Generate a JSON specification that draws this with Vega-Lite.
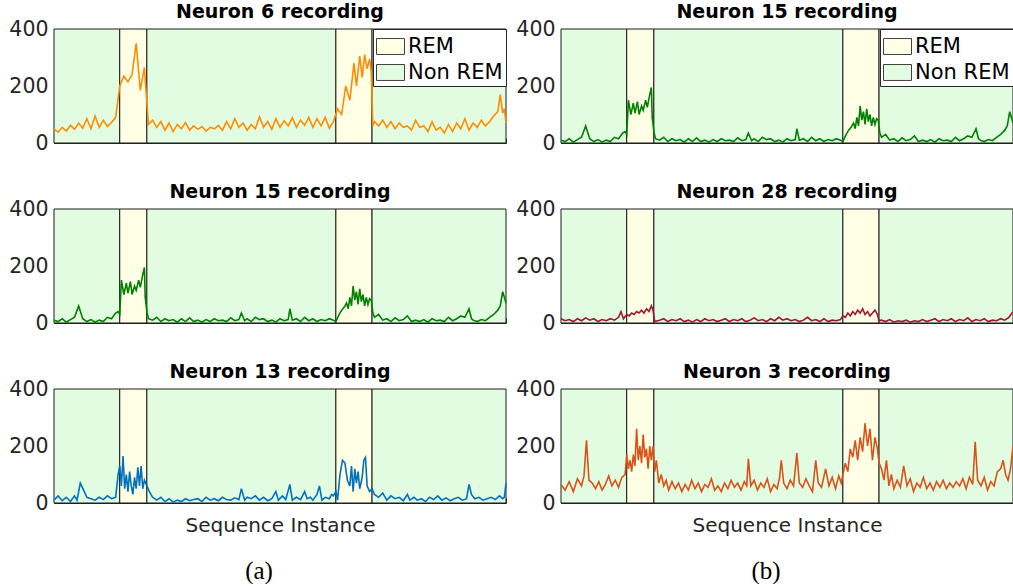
{
  "$schema": "https://vega.github.io/schema/vega-lite/v6.json",
  "background": "white",
  "padding": {"left": 8, "top": 3, "right": 0, "bottom": 0},
  "config": {
    "view": {"stroke": null},
    "axis": {"domainColor": "#262626", "tickColor": "#262626", "labelColor": "#262626", "labelFont": "DejaVu Sans", "labelFontSize": 20.5, "grid": false, "domainWidth": 1, "tickWidth": 1, "titleFont": "DejaVu Sans", "titleFontSize": 20, "titleFontWeight": "normal", "titleColor": "#262626"},
    "title": {"font": "DejaVu Sans", "fontSize": 19, "fontWeight": "bold", "color": "#000000", "offset": -3}
  },
  "datasets": {
    "shade": [{"x1":0,"x2":80,"s":"Non REM"},{"x1":80,"x2":113,"s":"REM"},{"x1":113,"x2":343,"s":"Non REM"},{"x1":343,"x2":387,"s":"REM"},{"x1":387,"x2":550,"s":"Non REM"}],
    "n6": [{"x":0,"y":50},{"x":5,"y":38},{"x":10,"y":55},{"x":15,"y":42},{"x":20,"y":62},{"x":25,"y":48},{"x":30,"y":70},{"x":35,"y":52},{"x":40,"y":85},{"x":45,"y":50},{"x":50,"y":95},{"x":55,"y":55},{"x":60,"y":80},{"x":65,"y":58},{"x":70,"y":72},{"x":75,"y":90},{"x":80,"y":200},{"x":85,"y":235},{"x":90,"y":215},{"x":95,"y":240},{"x":100,"y":350},{"x":105,"y":185},{"x":110,"y":265},{"x":112,"y":180},{"x":115,"y":65},{"x":120,"y":80},{"x":125,"y":55},{"x":130,"y":75},{"x":135,"y":45},{"x":140,"y":70},{"x":145,"y":40},{"x":150,"y":65},{"x":155,"y":50},{"x":160,"y":72},{"x":165,"y":45},{"x":170,"y":60},{"x":175,"y":48},{"x":180,"y":58},{"x":185,"y":42},{"x":190,"y":55},{"x":195,"y":50},{"x":200,"y":62},{"x":205,"y":45},{"x":210,"y":75},{"x":215,"y":50},{"x":220,"y":85},{"x":225,"y":55},{"x":230,"y":70},{"x":235,"y":45},{"x":240,"y":65},{"x":245,"y":50},{"x":250,"y":92},{"x":255,"y":55},{"x":260,"y":75},{"x":265,"y":48},{"x":270,"y":85},{"x":275,"y":55},{"x":280,"y":78},{"x":285,"y":60},{"x":290,"y":88},{"x":295,"y":55},{"x":300,"y":80},{"x":305,"y":62},{"x":310,"y":90},{"x":315,"y":55},{"x":320,"y":85},{"x":325,"y":60},{"x":330,"y":90},{"x":335,"y":52},{"x":340,"y":75},{"x":345,"y":120},{"x":350,"y":100},{"x":355,"y":200},{"x":360,"y":150},{"x":365,"y":280},{"x":368,"y":200},{"x":372,"y":305},{"x":375,"y":230},{"x":378,"y":310},{"x":381,"y":260},{"x":384,"y":295},{"x":386,"y":250},{"x":388,"y":60},{"x":390,"y":75},{"x":395,"y":60},{"x":400,"y":80},{"x":405,"y":55},{"x":410,"y":75},{"x":415,"y":50},{"x":420,"y":70},{"x":425,"y":55},{"x":430,"y":60},{"x":435,"y":45},{"x":440,"y":80},{"x":445,"y":55},{"x":450,"y":60},{"x":455,"y":40},{"x":460,"y":75},{"x":465,"y":45},{"x":470,"y":55},{"x":475,"y":35},{"x":480,"y":65},{"x":485,"y":40},{"x":490,"y":70},{"x":495,"y":50},{"x":500,"y":85},{"x":505,"y":45},{"x":510,"y":70},{"x":515,"y":55},{"x":520,"y":80},{"x":525,"y":60},{"x":530,"y":75},{"x":535,"y":95},{"x":540,"y":110},{"x":543,"y":170},{"x":546,"y":105},{"x":548,"y":120},{"x":550,"y":70}],
    "n15": [{"x":0,"y":10},{"x":5,"y":5},{"x":10,"y":15},{"x":15,"y":3},{"x":20,"y":12},{"x":25,"y":20},{"x":30,"y":60},{"x":35,"y":15},{"x":40,"y":5},{"x":45,"y":12},{"x":50,"y":3},{"x":55,"y":10},{"x":60,"y":5},{"x":65,"y":20},{"x":70,"y":15},{"x":75,"y":35},{"x":78,"y":40},{"x":80,"y":30},{"x":82,"y":150},{"x":85,"y":100},{"x":88,"y":140},{"x":90,"y":105},{"x":93,"y":145},{"x":95,"y":100},{"x":98,"y":130},{"x":100,"y":115},{"x":103,"y":150},{"x":105,"y":125},{"x":108,"y":170},{"x":110,"y":195},{"x":111,"y":90},{"x":113,"y":40},{"x":115,"y":15},{"x":120,"y":10},{"x":125,"y":20},{"x":130,"y":5},{"x":135,"y":15},{"x":140,"y":8},{"x":145,"y":12},{"x":150,"y":3},{"x":155,"y":15},{"x":160,"y":5},{"x":165,"y":18},{"x":170,"y":5},{"x":175,"y":10},{"x":180,"y":3},{"x":185,"y":12},{"x":190,"y":5},{"x":195,"y":15},{"x":200,"y":8},{"x":205,"y":10},{"x":210,"y":5},{"x":215,"y":18},{"x":220,"y":8},{"x":225,"y":12},{"x":228,"y":35},{"x":232,"y":8},{"x":235,"y":15},{"x":240,"y":5},{"x":245,"y":20},{"x":250,"y":12},{"x":255,"y":15},{"x":260,"y":5},{"x":265,"y":10},{"x":270,"y":3},{"x":275,"y":15},{"x":280,"y":8},{"x":285,"y":12},{"x":287,"y":50},{"x":290,"y":10},{"x":295,"y":15},{"x":300,"y":5},{"x":305,"y":20},{"x":310,"y":8},{"x":315,"y":15},{"x":320,"y":5},{"x":325,"y":12},{"x":330,"y":8},{"x":335,"y":15},{"x":340,"y":10},{"x":343,"y":5},{"x":347,"y":30},{"x":350,"y":45},{"x":353,"y":55},{"x":356,"y":70},{"x":358,"y":50},{"x":360,"y":90},{"x":362,"y":60},{"x":364,"y":130},{"x":366,"y":80},{"x":368,"y":110},{"x":370,"y":65},{"x":372,"y":120},{"x":374,"y":75},{"x":376,"y":100},{"x":378,"y":60},{"x":380,"y":90},{"x":382,"y":65},{"x":384,"y":85},{"x":386,"y":80},{"x":388,"y":35},{"x":390,"y":20},{"x":395,"y":30},{"x":400,"y":10},{"x":405,"y":15},{"x":410,"y":5},{"x":415,"y":18},{"x":420,"y":8},{"x":425,"y":12},{"x":430,"y":25},{"x":435,"y":5},{"x":440,"y":10},{"x":445,"y":5},{"x":450,"y":12},{"x":455,"y":3},{"x":460,"y":15},{"x":465,"y":8},{"x":470,"y":10},{"x":475,"y":5},{"x":480,"y":20},{"x":485,"y":8},{"x":490,"y":15},{"x":495,"y":25},{"x":500,"y":20},{"x":505,"y":50},{"x":508,"y":15},{"x":510,"y":10},{"x":515,"y":5},{"x":520,"y":12},{"x":525,"y":8},{"x":530,"y":20},{"x":535,"y":30},{"x":540,"y":45},{"x":543,"y":60},{"x":546,"y":110},{"x":548,"y":90},{"x":550,"y":70}],
    "n28": [{"x":0,"y":15},{"x":5,"y":8},{"x":10,"y":12},{"x":15,"y":5},{"x":20,"y":15},{"x":25,"y":8},{"x":30,"y":18},{"x":35,"y":10},{"x":40,"y":15},{"x":45,"y":5},{"x":50,"y":12},{"x":55,"y":8},{"x":60,"y":15},{"x":65,"y":10},{"x":70,"y":20},{"x":73,"y":40},{"x":76,"y":15},{"x":80,"y":30},{"x":83,"y":25},{"x":86,"y":35},{"x":89,"y":30},{"x":92,"y":40},{"x":95,"y":35},{"x":98,"y":45},{"x":101,"y":35},{"x":104,"y":50},{"x":107,"y":40},{"x":110,"y":60},{"x":112,"y":45},{"x":114,"y":5},{"x":120,"y":10},{"x":125,"y":15},{"x":130,"y":5},{"x":135,"y":12},{"x":140,"y":8},{"x":145,"y":15},{"x":150,"y":5},{"x":155,"y":10},{"x":160,"y":3},{"x":165,"y":12},{"x":170,"y":5},{"x":175,"y":15},{"x":180,"y":8},{"x":185,"y":12},{"x":190,"y":5},{"x":195,"y":10},{"x":200,"y":15},{"x":205,"y":5},{"x":210,"y":12},{"x":215,"y":8},{"x":220,"y":15},{"x":225,"y":5},{"x":230,"y":10},{"x":235,"y":18},{"x":240,"y":8},{"x":245,"y":12},{"x":250,"y":5},{"x":255,"y":15},{"x":260,"y":8},{"x":265,"y":20},{"x":270,"y":10},{"x":275,"y":15},{"x":280,"y":8},{"x":285,"y":12},{"x":290,"y":5},{"x":295,"y":10},{"x":300,"y":20},{"x":305,"y":8},{"x":310,"y":12},{"x":315,"y":5},{"x":320,"y":15},{"x":325,"y":5},{"x":330,"y":10},{"x":335,"y":8},{"x":340,"y":12},{"x":343,"y":25},{"x":346,"y":20},{"x":349,"y":35},{"x":352,"y":25},{"x":355,"y":40},{"x":358,"y":30},{"x":361,"y":45},{"x":364,"y":35},{"x":367,"y":50},{"x":370,"y":30},{"x":373,"y":40},{"x":376,"y":25},{"x":379,"y":35},{"x":382,"y":45},{"x":385,"y":30},{"x":387,"y":8},{"x":390,"y":10},{"x":395,"y":5},{"x":400,"y":12},{"x":405,"y":3},{"x":410,"y":8},{"x":415,"y":5},{"x":420,"y":10},{"x":425,"y":3},{"x":430,"y":8},{"x":435,"y":5},{"x":440,"y":12},{"x":445,"y":5},{"x":450,"y":10},{"x":455,"y":15},{"x":460,"y":5},{"x":465,"y":12},{"x":470,"y":8},{"x":475,"y":15},{"x":480,"y":5},{"x":485,"y":12},{"x":490,"y":8},{"x":495,"y":18},{"x":500,"y":5},{"x":505,"y":12},{"x":510,"y":8},{"x":515,"y":15},{"x":520,"y":5},{"x":525,"y":10},{"x":530,"y":8},{"x":535,"y":15},{"x":540,"y":10},{"x":545,"y":20},{"x":550,"y":40}],
    "n13": [{"x":0,"y":10},{"x":5,"y":25},{"x":10,"y":8},{"x":15,"y":20},{"x":20,"y":5},{"x":25,"y":25},{"x":28,"y":10},{"x":32,"y":70},{"x":36,"y":45},{"x":40,"y":20},{"x":45,"y":15},{"x":50,"y":10},{"x":55,"y":20},{"x":60,"y":12},{"x":65,"y":25},{"x":70,"y":15},{"x":75,"y":20},{"x":78,"y":100},{"x":80,"y":130},{"x":82,"y":60},{"x":84,"y":165},{"x":86,"y":50},{"x":88,"y":100},{"x":90,"y":40},{"x":92,"y":110},{"x":94,"y":60},{"x":96,"y":30},{"x":98,"y":90},{"x":100,"y":50},{"x":102,"y":125},{"x":104,"y":60},{"x":106,"y":130},{"x":108,"y":50},{"x":110,"y":80},{"x":113,"y":60},{"x":116,"y":40},{"x":120,"y":20},{"x":125,"y":10},{"x":130,"y":20},{"x":135,"y":5},{"x":140,"y":15},{"x":145,"y":3},{"x":150,"y":10},{"x":155,"y":5},{"x":160,"y":15},{"x":165,"y":8},{"x":170,"y":12},{"x":175,"y":15},{"x":180,"y":5},{"x":185,"y":20},{"x":190,"y":10},{"x":195,"y":15},{"x":200,"y":8},{"x":205,"y":20},{"x":210,"y":12},{"x":215,"y":10},{"x":220,"y":18},{"x":225,"y":12},{"x":228,"y":50},{"x":232,"y":10},{"x":235,"y":20},{"x":240,"y":15},{"x":245,"y":25},{"x":250,"y":10},{"x":255,"y":20},{"x":260,"y":8},{"x":265,"y":15},{"x":270,"y":40},{"x":273,"y":10},{"x":278,"y":25},{"x":282,"y":12},{"x":287,"y":65},{"x":290,"y":10},{"x":295,"y":20},{"x":300,"y":12},{"x":305,"y":40},{"x":308,"y":15},{"x":312,"y":20},{"x":315,"y":10},{"x":320,"y":30},{"x":323,"y":60},{"x":326,"y":10},{"x":330,"y":20},{"x":335,"y":15},{"x":338,"y":30},{"x":340,"y":25},{"x":343,"y":40},{"x":345,"y":10},{"x":348,"y":100},{"x":351,"y":150},{"x":354,"y":140},{"x":357,"y":80},{"x":360,"y":60},{"x":362,"y":130},{"x":364,"y":40},{"x":366,"y":120},{"x":368,"y":70},{"x":370,"y":110},{"x":372,"y":50},{"x":375,"y":90},{"x":377,"y":150},{"x":379,"y":160},{"x":381,"y":60},{"x":384,"y":40},{"x":387,"y":50},{"x":390,"y":30},{"x":395,"y":20},{"x":400,"y":35},{"x":405,"y":10},{"x":410,"y":25},{"x":415,"y":15},{"x":420,"y":20},{"x":425,"y":8},{"x":430,"y":30},{"x":433,"y":10},{"x":438,"y":20},{"x":442,"y":10},{"x":447,"y":15},{"x":452,"y":5},{"x":457,"y":20},{"x":462,"y":12},{"x":467,"y":25},{"x":472,"y":10},{"x":477,"y":18},{"x":482,"y":8},{"x":487,"y":15},{"x":492,"y":20},{"x":497,"y":10},{"x":502,"y":15},{"x":505,"y":65},{"x":508,"y":30},{"x":512,"y":15},{"x":517,"y":20},{"x":522,"y":10},{"x":527,"y":15},{"x":532,"y":20},{"x":537,"y":12},{"x":542,"y":25},{"x":546,"y":15},{"x":548,"y":20},{"x":550,"y":70}],
    "n3": [{"x":0,"y":65},{"x":5,"y":45},{"x":10,"y":75},{"x":15,"y":40},{"x":20,"y":85},{"x":25,"y":60},{"x":28,"y":95},{"x":31,"y":220},{"x":34,"y":80},{"x":38,"y":70},{"x":42,"y":50},{"x":46,"y":75},{"x":50,"y":45},{"x":54,"y":65},{"x":58,"y":95},{"x":62,"y":60},{"x":66,"y":80},{"x":70,"y":55},{"x":74,"y":90},{"x":78,"y":100},{"x":80,"y":170},{"x":82,"y":120},{"x":84,"y":150},{"x":86,"y":110},{"x":88,"y":170},{"x":90,"y":130},{"x":92,"y":260},{"x":94,"y":150},{"x":96,"y":200},{"x":98,"y":140},{"x":100,"y":240},{"x":102,"y":160},{"x":104,"y":190},{"x":106,"y":120},{"x":108,"y":200},{"x":110,"y":150},{"x":112,"y":200},{"x":114,"y":110},{"x":116,"y":150},{"x":119,"y":70},{"x":122,"y":100},{"x":125,"y":60},{"x":128,"y":80},{"x":131,"y":45},{"x":135,"y":75},{"x":139,"y":50},{"x":143,"y":70},{"x":147,"y":40},{"x":151,"y":65},{"x":155,"y":45},{"x":159,"y":80},{"x":163,"y":50},{"x":167,"y":70},{"x":171,"y":40},{"x":175,"y":65},{"x":179,"y":55},{"x":183,"y":85},{"x":187,"y":45},{"x":191,"y":60},{"x":195,"y":40},{"x":199,"y":70},{"x":203,"y":50},{"x":207,"y":80},{"x":211,"y":55},{"x":215,"y":70},{"x":219,"y":45},{"x":223,"y":75},{"x":226,"y":60},{"x":228,"y":155},{"x":231,"y":60},{"x":235,"y":80},{"x":239,"y":45},{"x":243,"y":70},{"x":247,"y":55},{"x":251,"y":85},{"x":255,"y":40},{"x":259,"y":65},{"x":263,"y":50},{"x":266,"y":90},{"x":268,"y":150},{"x":271,"y":70},{"x":275,"y":50},{"x":279,"y":80},{"x":283,"y":60},{"x":287,"y":175},{"x":290,"y":70},{"x":294,"y":55},{"x":298,"y":85},{"x":302,"y":60},{"x":306,"y":40},{"x":310,"y":150},{"x":313,"y":70},{"x":317,"y":55},{"x":322,"y":120},{"x":326,"y":60},{"x":330,"y":90},{"x":334,"y":50},{"x":338,"y":95},{"x":341,"y":70},{"x":343,"y":100},{"x":346,"y":140},{"x":349,"y":110},{"x":352,"y":190},{"x":355,"y":160},{"x":358,"y":220},{"x":361,"y":150},{"x":364,"y":230},{"x":367,"y":180},{"x":370,"y":280},{"x":373,"y":200},{"x":376,"y":260},{"x":379,"y":150},{"x":382,"y":230},{"x":385,"y":190},{"x":387,"y":140},{"x":390,"y":120},{"x":393,"y":80},{"x":396,"y":150},{"x":399,"y":60},{"x":402,"y":100},{"x":405,"y":50},{"x":409,"y":80},{"x":413,"y":55},{"x":417,"y":130},{"x":421,"y":60},{"x":425,"y":85},{"x":429,"y":40},{"x":433,"y":70},{"x":437,"y":55},{"x":441,"y":90},{"x":445,"y":50},{"x":449,"y":70},{"x":453,"y":45},{"x":457,"y":75},{"x":461,"y":55},{"x":465,"y":80},{"x":469,"y":50},{"x":473,"y":70},{"x":477,"y":55},{"x":481,"y":75},{"x":485,"y":60},{"x":489,"y":85},{"x":493,"y":50},{"x":497,"y":90},{"x":501,"y":65},{"x":504,"y":215},{"x":507,"y":80},{"x":511,"y":60},{"x":515,"y":90},{"x":519,"y":45},{"x":523,"y":75},{"x":527,"y":60},{"x":531,"y":110},{"x":535,"y":120},{"x":538,"y":150},{"x":541,"y":100},{"x":544,"y":80},{"x":547,"y":120},{"x":550,"y":200}]
  },
  "spacing": 5,
  "resolve": {"scale": {"fill": "independent", "x": "independent", "y": "independent"}, "legend": {"fill": "independent"}},
  "hconcat": [
    {
      "spacing": 66,
      "bounds": "flush",
      "resolve": {"scale": {"fill": "independent", "x": "independent", "y": "independent"}, "legend": {"fill": "independent"}},
      "title": {"text": "(a)", "orient": "bottom", "anchor": "middle", "font": "Liberation Serif", "fontSize": 25, "fontWeight": "normal", "color": "#000000", "offset": 23},
      "vconcat": [
        {
          "width": 452, "height": 114,
          "title": "Neuron 6 recording",
          "layer": [
            {"data": {"name": "shade"}, "mark": {"type": "rect", "stroke": "#1a1a1a", "strokeWidth": 1},
             "encoding": {
               "x": {"field": "x1", "type": "quantitative", "scale": {"domain": [0, 550], "nice": false, "zero": false}, "axis": {"values": [50,150,250,350,450,550], "labels": false, "title": null, "tickSize": -5}},
               "x2": {"field": "x2"},
               "y": {"datum": 400, "type": "quantitative", "scale": {"domain": [0, 400], "nice": false}, "axis": {"values": [0,200,400], "title": null, "tickSize": -5, "labelPadding": 11}},
               "y2": {"datum": 0},
               "fill": {"field": "s", "type": "nominal", "scale": {"domain": ["REM", "Non REM"], "range": ["#FFFFE6", "#E1FCE0"]},
                 "legend": {"title": null, "orient": "top-right", "offset": 0, "fillColor": "white", "strokeColor": "#262626", "padding": 3, "symbolType": "M-1,-0.57H1V0.57H-1Z", "symbolSize": 784, "symbolStrokeColor": "#404040", "symbolStrokeWidth": 1, "symbolOpacity": 1, "labelFont": "DejaVu Sans", "labelFontSize": 21, "labelColor": "#000000", "labelOffset": 3, "rowPadding": 1}}
             }},
            {"data": {"name": "n6"}, "mark": {"type": "line", "color": "#FF8C00", "strokeWidth": 1.6},
             "encoding": {"x": {"field": "x", "type": "quantitative"}, "y": {"field": "y", "type": "quantitative"}}}
          ]
        },
        {
          "width": 452, "height": 114,
          "title": "Neuron 15 recording",
          "layer": [
            {"data": {"name": "shade"}, "mark": {"type": "rect", "stroke": "#1a1a1a", "strokeWidth": 1},
             "encoding": {
               "x": {"field": "x1", "type": "quantitative", "scale": {"domain": [0, 550], "nice": false, "zero": false}, "axis": {"values": [50,150,250,350,450,550], "labels": false, "title": null, "tickSize": -5}},
               "x2": {"field": "x2"},
               "y": {"datum": 400, "type": "quantitative", "scale": {"domain": [0, 400], "nice": false}, "axis": {"values": [0,200,400], "title": null, "tickSize": -5, "labelPadding": 11}},
               "y2": {"datum": 0},
               "fill": {"field": "s", "type": "nominal", "scale": {"domain": ["REM", "Non REM"], "range": ["#FFFFE6", "#E1FCE0"]}, "legend": null}
             }},
            {"data": {"name": "n15"}, "mark": {"type": "line", "color": "#008000", "strokeWidth": 1.6},
             "encoding": {"x": {"field": "x", "type": "quantitative"}, "y": {"field": "y", "type": "quantitative"}}}
          ]
        },
        {
          "width": 452, "height": 114,
          "title": "Neuron 13 recording",
          "layer": [
            {"data": {"name": "shade"}, "mark": {"type": "rect", "stroke": "#1a1a1a", "strokeWidth": 1},
             "encoding": {
               "x": {"field": "x1", "type": "quantitative", "scale": {"domain": [0, 550], "nice": false, "zero": false}, "axis": {"values": [50,150,250,350,450,550], "labels": false, "title": "Sequence Instance", "titlePadding": 12, "tickSize": -5}},
               "x2": {"field": "x2"},
               "y": {"datum": 400, "type": "quantitative", "scale": {"domain": [0, 400], "nice": false}, "axis": {"values": [0,200,400], "title": null, "tickSize": -5, "labelPadding": 11}},
               "y2": {"datum": 0},
               "fill": {"field": "s", "type": "nominal", "scale": {"domain": ["REM", "Non REM"], "range": ["#FFFFE6", "#E1FCE0"]}, "legend": null}
             }},
            {"data": {"name": "n13"}, "mark": {"type": "line", "color": "#0072BD", "strokeWidth": 1.6},
             "encoding": {"x": {"field": "x", "type": "quantitative"}, "y": {"field": "y", "type": "quantitative"}}}
          ]
        }
      ]
    },
    {
      "spacing": 66,
      "bounds": "flush",
      "resolve": {"scale": {"fill": "independent", "x": "independent", "y": "independent"}, "legend": {"fill": "independent"}},
      "title": {"text": "(b)", "orient": "bottom", "anchor": "middle", "font": "Liberation Serif", "fontSize": 25, "fontWeight": "normal", "color": "#000000", "offset": 23},
      "vconcat": [
        {
          "width": 452, "height": 114,
          "title": "Neuron 15 recording",
          "layer": [
            {"data": {"name": "shade"}, "mark": {"type": "rect", "stroke": "#1a1a1a", "strokeWidth": 1},
             "encoding": {
               "x": {"field": "x1", "type": "quantitative", "scale": {"domain": [0, 550], "nice": false, "zero": false}, "axis": {"values": [50,150,250,350,450,550], "labels": false, "title": null, "tickSize": -5}},
               "x2": {"field": "x2"},
               "y": {"datum": 400, "type": "quantitative", "scale": {"domain": [0, 400], "nice": false}, "axis": {"values": [0,200,400], "title": null, "tickSize": -5, "labelPadding": 11}},
               "y2": {"datum": 0},
               "fill": {"field": "s", "type": "nominal", "scale": {"domain": ["REM", "Non REM"], "range": ["#FFFFE6", "#E1FCE0"]},
                 "legend": {"title": null, "orient": "top-right", "offset": 0, "fillColor": "white", "strokeColor": "#262626", "padding": 3, "symbolType": "M-1,-0.57H1V0.57H-1Z", "symbolSize": 784, "symbolStrokeColor": "#404040", "symbolStrokeWidth": 1, "symbolOpacity": 1, "labelFont": "DejaVu Sans", "labelFontSize": 21, "labelColor": "#000000", "labelOffset": 3, "rowPadding": 1}}
             }},
            {"data": {"name": "n15"}, "mark": {"type": "line", "color": "#008000", "strokeWidth": 1.6},
             "encoding": {"x": {"field": "x", "type": "quantitative"}, "y": {"field": "y", "type": "quantitative"}}}
          ]
        },
        {
          "width": 452, "height": 114,
          "title": "Neuron 28 recording",
          "layer": [
            {"data": {"name": "shade"}, "mark": {"type": "rect", "stroke": "#1a1a1a", "strokeWidth": 1},
             "encoding": {
               "x": {"field": "x1", "type": "quantitative", "scale": {"domain": [0, 550], "nice": false, "zero": false}, "axis": {"values": [50,150,250,350,450,550], "labels": false, "title": null, "tickSize": -5}},
               "x2": {"field": "x2"},
               "y": {"datum": 400, "type": "quantitative", "scale": {"domain": [0, 400], "nice": false}, "axis": {"values": [0,200,400], "title": null, "tickSize": -5, "labelPadding": 11}},
               "y2": {"datum": 0},
               "fill": {"field": "s", "type": "nominal", "scale": {"domain": ["REM", "Non REM"], "range": ["#FFFFE6", "#E1FCE0"]}, "legend": null}
             }},
            {"data": {"name": "n28"}, "mark": {"type": "line", "color": "#A2142F", "strokeWidth": 1.6},
             "encoding": {"x": {"field": "x", "type": "quantitative"}, "y": {"field": "y", "type": "quantitative"}}}
          ]
        },
        {
          "width": 452, "height": 114,
          "title": "Neuron 3 recording",
          "layer": [
            {"data": {"name": "shade"}, "mark": {"type": "rect", "stroke": "#1a1a1a", "strokeWidth": 1},
             "encoding": {
               "x": {"field": "x1", "type": "quantitative", "scale": {"domain": [0, 550], "nice": false, "zero": false}, "axis": {"values": [50,150,250,350,450,550], "labels": false, "title": "Sequence Instance", "titlePadding": 12, "tickSize": -5}},
               "x2": {"field": "x2"},
               "y": {"datum": 400, "type": "quantitative", "scale": {"domain": [0, 400], "nice": false}, "axis": {"values": [0,200,400], "title": null, "tickSize": -5, "labelPadding": 11}},
               "y2": {"datum": 0},
               "fill": {"field": "s", "type": "nominal", "scale": {"domain": ["REM", "Non REM"], "range": ["#FFFFE6", "#E1FCE0"]}, "legend": null}
             }},
            {"data": {"name": "n3"}, "mark": {"type": "line", "color": "#D95319", "strokeWidth": 1.6},
             "encoding": {"x": {"field": "x", "type": "quantitative"}, "y": {"field": "y", "type": "quantitative"}}}
          ]
        }
      ]
    }
  ]
}
